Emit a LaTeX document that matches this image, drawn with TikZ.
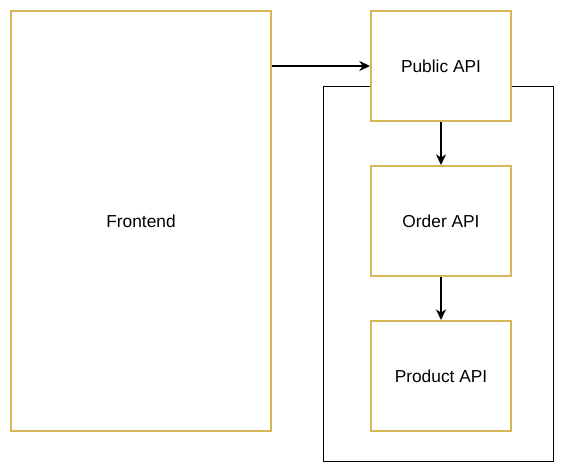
\documentclass[tikz,border=0pt]{standalone}
\usepackage{fontspec}
\setmainfont{Liberation Sans}
\usetikzlibrary{arrows.meta}
\definecolor{gold}{HTML}{D6B656}
\tikzset{
  svc/.style={draw=gold, line width=1.5pt, fill=white, inner sep=0pt, font=\fontsize{13pt}{15pt}\selectfont},
  conn/.style={-{Stealth[length=8pt,width=7.5pt,inset=2.5pt]}, line width=1.1pt, black},
}
\begin{document}
\begin{tikzpicture}[x=0.75pt,y=-0.75pt]
\useasboundingbox (0,0) rectangle (564,472);
\draw[line width=0.75pt] (323,86) rectangle (553,461);
\node[svc, minimum width=195pt, minimum height=315pt] (fe) at (141,221) {Frontend};
\node[svc, minimum width=105pt, minimum height=82.5pt] (pub) at (441,66) {Public API};
\node[svc, minimum width=105pt, minimum height=82.5pt] (ord) at (441,221) {Order API};
\node[svc, minimum width=105pt, minimum height=82.5pt] (prod) at (441,376) {Product API};
\draw[conn] (fe.east |- pub) -- (pub.west);
\draw[conn] (pub.south) -- (ord.north);
\draw[conn] (ord.south) -- (prod.north);
\end{tikzpicture}
\end{document}
